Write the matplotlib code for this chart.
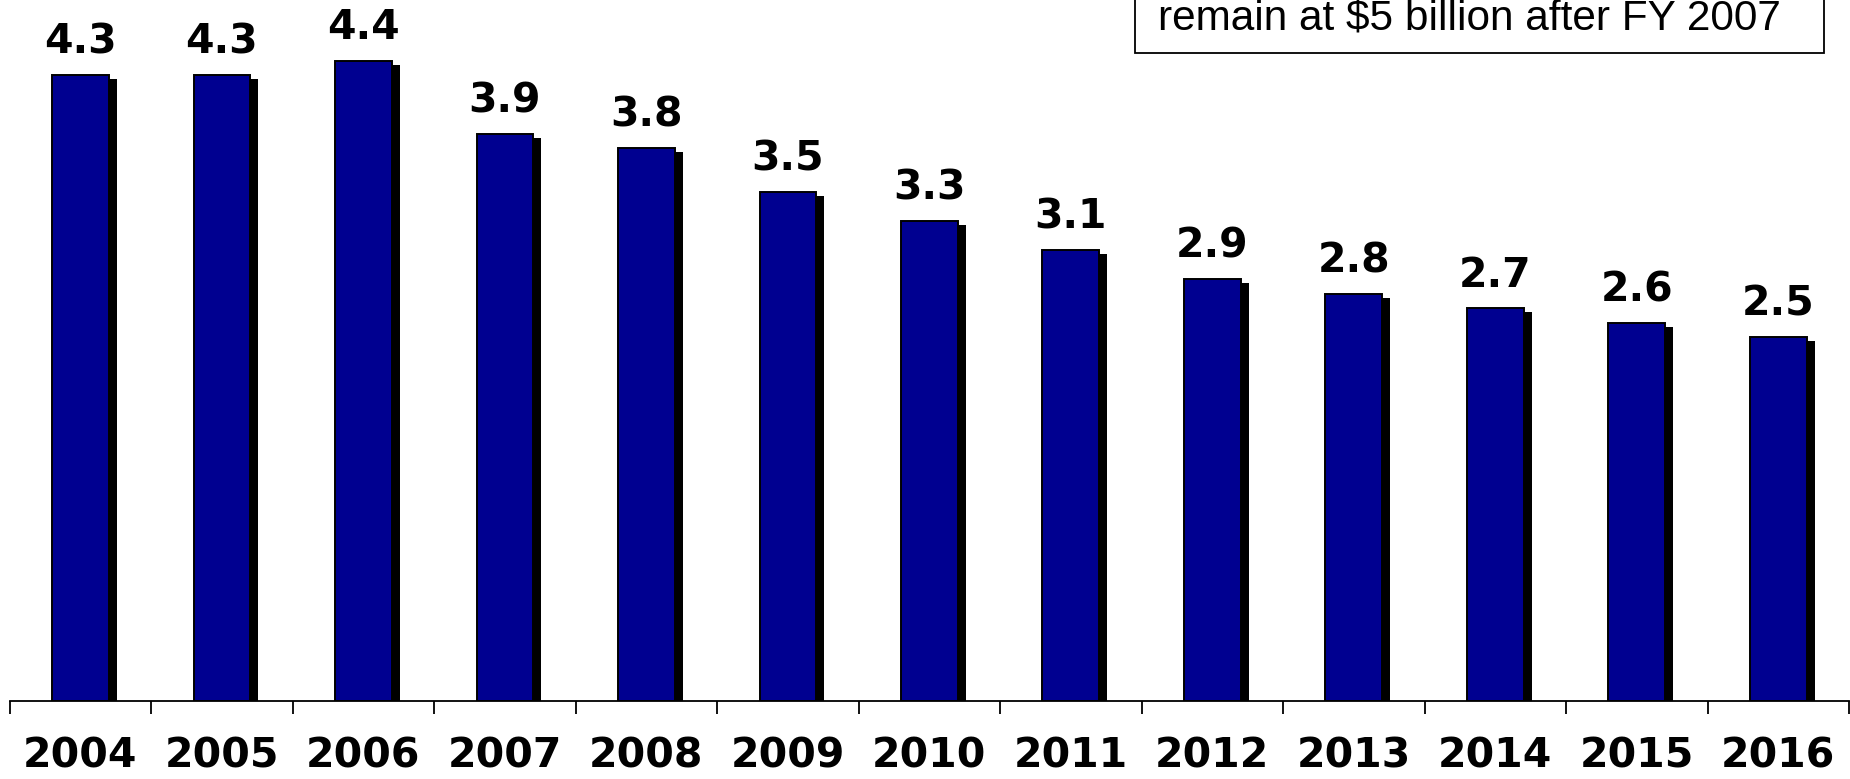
import matplotlib
matplotlib.use("Agg")
import matplotlib.pyplot as plt
from matplotlib.transforms import ScaledTranslation
from matplotlib.patches import Rectangle

years = ["2004", "2005", "2006", "2007", "2008", "2009", "2010",
         "2011", "2012", "2013", "2014", "2015", "2016"]
values = [4.3, 4.3, 4.4, 3.9, 3.8, 3.5, 3.3, 3.1, 2.9, 2.8, 2.7, 2.6, 2.5]
value_labels = ["4.3", "4.3", "4.4", "3.9", "3.8", "3.5", "3.3",
                "3.1", "2.9", "2.8", "2.7", "2.6", "2.5"]
note_text = "remain at $5 billion after FY 2007"

W, H, DPI = 1850, 779, 100
fig = plt.figure(figsize=(W / DPI, H / DPI), dpi=DPI)
ax = fig.add_axes([9.6 / W, (H - 701) / H, 1 - 9.6 / W - 1.0 / W, 701 / H])

x = list(range(len(years)))
bar_w = 0.40
shadow = ax.transData + ScaledTranslation(8 / DPI, -4 / DPI, fig.dpi_scale_trans)
ax.bar(x, values, width=bar_w, color="black", edgecolor="black",
       linewidth=0, transform=shadow, zorder=1)
ax.bar(x, values, width=bar_w, color="#000090", edgecolor="black",
       linewidth=1.4, zorder=2)

for xi, v, lab in zip(x, values, value_labels):
    ax.annotate(lab, (xi, v), xytext=(0, 9), textcoords="offset points",
                ha="center", va="bottom", fontsize=29.5, fontweight="bold",
                family="DejaVu Sans", color="black", zorder=3)

ax.set_xlim(-0.5, len(years) - 0.5)
ax.set_ylim(0, 701 / 145.5)

ax.set_xticks([i + 0.5 for i in range(-1, len(years))])
ax.set_xticklabels([])
ax.tick_params(axis="x", which="major", direction="out", length=9,
               width=1.3, color="black")
ax.set_xticks(x, minor=True)
ax.set_xticklabels(years, minor=True, fontsize=29.5, fontweight="bold",
                   family="DejaVu Sans")
ax.tick_params(axis="x", which="minor", length=0, pad=25.5)
ax.set_yticks([])
for s in ["left", "top", "right"]:
    ax.spines[s].set_visible(False)
ax.spines["bottom"].set_linewidth(1.3)

# text box at top right, partly cut off by figure edge
box = Rectangle((1135 / W, 1 - 53 / H), (1824 - 1135) / W, 200 / H,
                transform=fig.transFigure, facecolor="white",
                edgecolor="black", linewidth=1.3, zorder=5)
fig.add_artist(box)
fig.text(1158 / W, 1 - 30 / H, note_text, fontsize=30.5,
         family="Liberation Sans", ha="left", va="baseline", zorder=6)

fig.savefig("out.png", dpi=DPI)
